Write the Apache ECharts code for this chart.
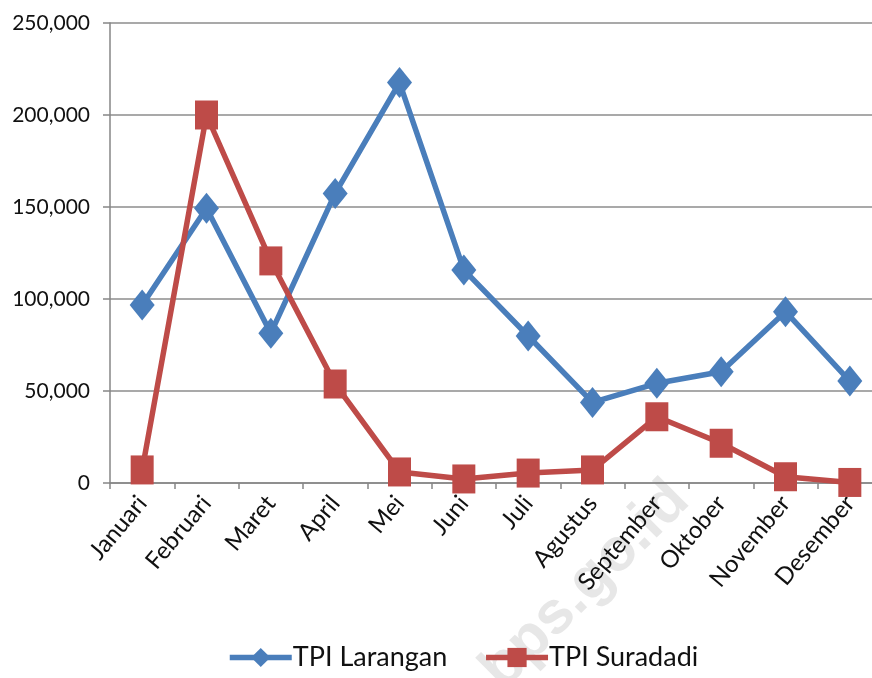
<!DOCTYPE html>
<html><head><meta charset="utf-8">
<script src="https://cdn.jsdelivr.net/npm/echarts@6/dist/echarts.min.js"></script>
<style>html,body{margin:0;padding:0;background:#fff;overflow:hidden}#c{width:884px;height:678px}</style>
</head><body><div id="c"></div>
<script>
const months = ['Januari','Februari','Maret','April','Mei','Juni','Juli','Agustus','September','Oktober','November','Desember'];
const larangan = [96700, 149300, 81400, 157400, 217600, 115800, 79900, 43800, 54200, 60500, 93100, 55400];
const suradadi = [7100, 200000, 120700, 53800, 6000, 2200, 5400, 7100, 36000, 21600, 3400, 300];
const yTicks = [0, 50000, 100000, 150000, 200000, 250000];

const font = "Lato,'Noto Sans',sans-serif";
const chart = echarts.init(document.getElementById('c'), null, {renderer:'canvas'});
chart.setOption({
  animation:false,
  backgroundColor:'#fff',
  grid:{left:110, top:23, right:2, height:460, containLabel:false},
  xAxis:{type:'category', data:months, boundaryGap:true,
    axisLine:{lineStyle:{color:'#868686', width:1.5}},
    axisTick:{show:true, length:6, lineStyle:{color:'#868686', width:1.5}},
    axisLabel:{rotate:50, fontFamily:font, fontSize:24, color:'#111', margin:16, interval:0}},
  yAxis:{type:'value', min:0, max:250000, interval:50000,
    axisLine:{show:true, lineStyle:{color:'#868686', width:1.5}},
    axisTick:{show:true, length:7, lineStyle:{color:'#868686', width:1.5}},
    splitLine:{lineStyle:{color:'#8c8c8c', width:1.5}},
    axisLabel:{fontFamily:font, fontSize:21, color:'#111', margin:20,
      formatter:v=> yTicks.includes(v) ? v.toLocaleString('en-US') : ''}},
  legend:{bottom:2, left:222, itemWidth:62, itemHeight:24, itemGap:36,
    lineStyle:{width:5.5},
    textStyle:{fontFamily:font, fontSize:27, color:'#111', padding:[0,0,0,-4]}},
  series:[
    {name:'TPI Larangan', type:'line', data:larangan, symbol:'diamond', symbolSize:[25,31],
      lineStyle:{color:'#4a7ebb', width:5.5}, itemStyle:{color:'#4a7ebb'}},
    {name:'TPI Suradadi', type:'line', data:suradadi, symbol:'rect', symbolSize:[23,29],
      lineStyle:{color:'#be4b48', width:5.5}, itemStyle:{color:'#be4b48'}}
  ],
  graphic:[{type:'text', left:470, top:470, rotation:Math.PI/4,
    style:{text:'bps.go.id', fill:'rgba(160,160,160,0.25)', font:"bold 60px 'Liberation Sans', sans-serif"}, z:-1}]
});
</script></body></html>
